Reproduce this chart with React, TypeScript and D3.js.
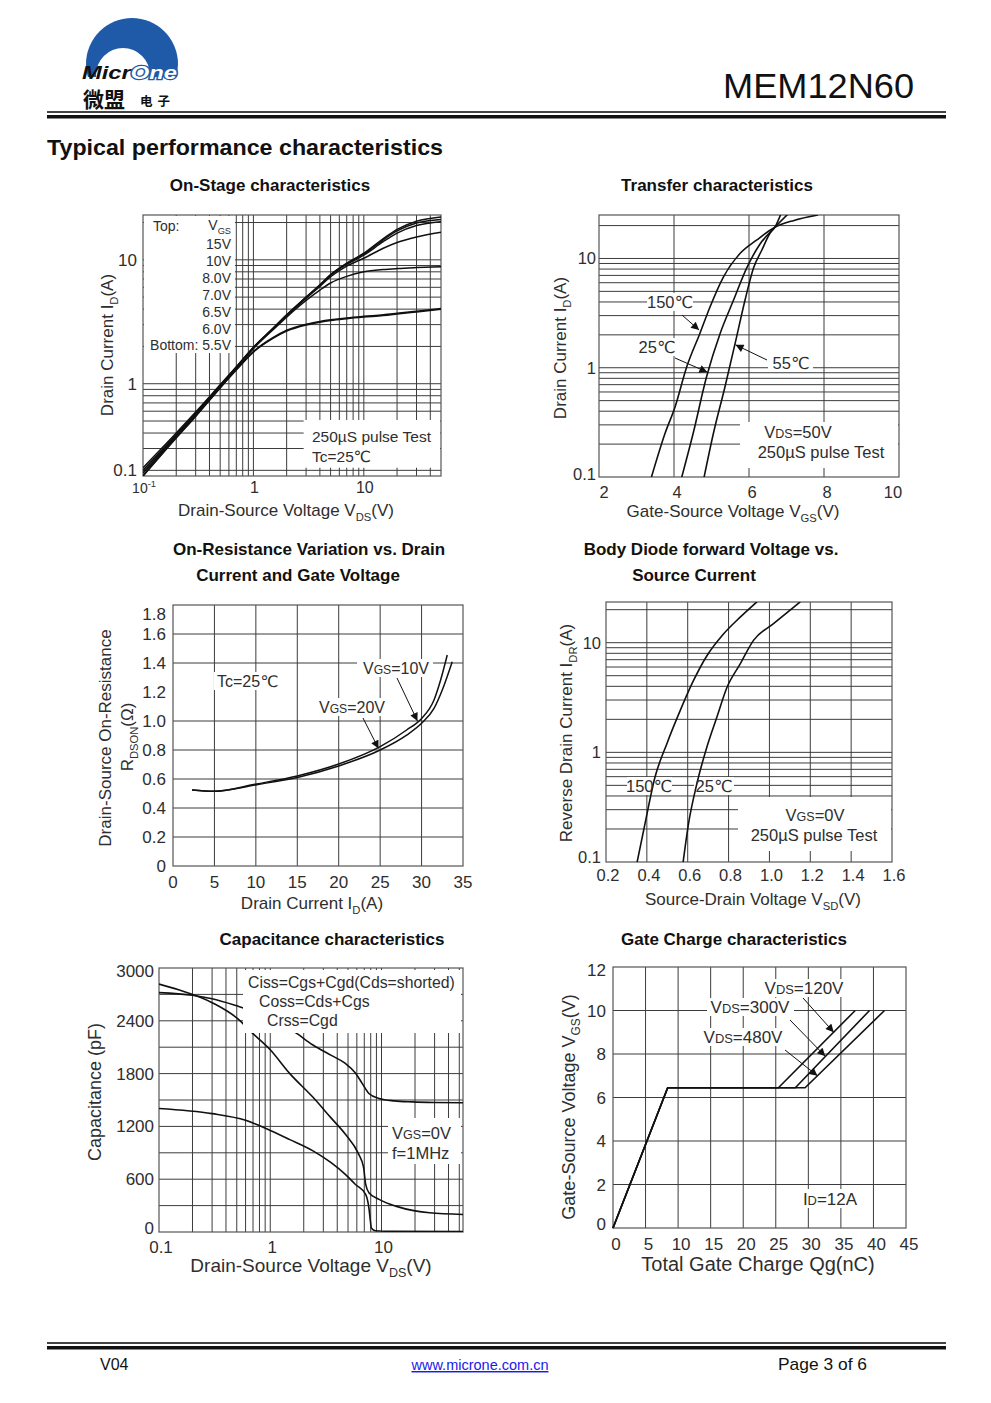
import React from "react";
import * as d3 from "d3";

const FONT = "'Liberation Sans', Arial, Helvetica, 'DejaVu Sans', sans-serif";
const CJK = "'Noto Sans CJK SC', sans-serif";
const INK = "#111";
const GRID = "#3c3c3c";
const TXT = "#2e2e2e";
const BLUE = "#1f5aa9";

type Pt = [number, number];
const zip = (xs: number[], ys: number[]): Pt[] => xs.map((x, i) => [x, ys[i]] as Pt);

// ===== 1. On-Stage characteristics (VDS, ID per VGS) =====
const onVds = [0.1, 0.2, 0.3, 0.5, 0.7, 1, 1.5, 2, 3, 4, 5, 7, 10, 15, 20, 30, 50];
const onVgsLabels = ["15V", "10V", "8.0V", "7.0V", "6.5V", "6.0V", "5.5V"];
const onId15V = [0.21, 0.4, 0.59, 0.98, 1.37, 1.97, 2.8, 3.6, 5.0, 6.3, 7.6, 9.4, 11.3, 14.8, 17.6, 20.5, 22.2];
const onId10V = [0.2, 0.39, 0.58, 0.97, 1.36, 1.96, 2.78, 3.58, 4.98, 6.25, 7.55, 9.3, 11.1, 14.5, 17.1, 19.8, 21.2];
const onId8V = [0.2, 0.38, 0.57, 0.96, 1.35, 1.95, 2.77, 3.56, 4.95, 6.2, 7.5, 9.2, 10.9, 14.0, 16.4, 18.9, 20.3];
const onId7V = [0.19, 0.38, 0.57, 0.96, 1.34, 1.94, 2.75, 3.54, 4.9, 6.1, 7.3, 8.9, 10.3, 12.4, 13.8, 15.3, 16.7];
const onId65V = [0.19, 0.37, 0.56, 0.95, 1.33, 1.92, 2.72, 3.45, 4.7, 5.7, 6.5, 7.35, 8.0, 8.35, 8.5, 8.65, 8.8];
const onId6V = [0.18, 0.37, 0.55, 0.93, 1.3, 1.82, 2.35, 2.7, 3.02, 3.18, 3.28, 3.4, 3.5, 3.6, 3.7, 3.85, 4.05];
const onId55V = [0.18, 0.365, 0.545, 0.925, 1.29, 1.8, 2.32, 2.66, 2.98, 3.14, 3.24, 3.35, 3.45, 3.55, 3.65, 3.8, 4.0];
const onXTicks = [0.1, 1, 10];
const onYTicks = [0.1, 1, 10];

// ===== 2. Transfer characteristics =====
const tr150Vgs = [3.38, 3.76, 4.03, 4.34, 4.69, 4.96, 5.32, 5.76, 6.2, 6.69, 7.2, 7.84];
const tr150Id = [0.095, 0.25, 0.44, 1.02, 2.06, 3.6, 6.8, 11.1, 14.7, 19.3, 22.3, 25];
const tr25Vgs = [4.19, 4.51, 4.87, 5.23, 5.58, 5.94, 6.29, 6.69, 7.04];
const tr25Id = [0.095, 0.25, 0.83, 2.06, 4.1, 8.2, 13.5, 19.3, 25.5];
const tr55Vgs = [4.79, 5.05, 5.36, 5.63, 5.89, 6.12, 6.34, 6.56, 6.69, 6.85];
const tr55Id = [0.095, 0.25, 0.67, 1.67, 4.1, 8.2, 11.9, 17.0, 19.3, 25.5];
const trXTicks = [2, 4, 6, 8, 10];
const trYTicks = [0.1, 1, 10];

// ===== 3. On-Resistance vs Drain Current =====
const rds10Id = [2.3, 4.9, 10.1, 15.0, 20.0, 25.0, 28.2, 30.0, 31.5, 32.3, 33.1];
const rds10R = [0.524, 0.515, 0.566, 0.621, 0.703, 0.823, 0.938, 1.018, 1.145, 1.283, 1.455];
const rds20Id = [2.3, 4.9, 10.1, 15.0, 20.0, 25.0, 28.2, 30.0, 31.5, 32.5, 33.7];
const rds20R = [0.524, 0.515, 0.561, 0.611, 0.69, 0.8, 0.903, 0.984, 1.087, 1.214, 1.409];
const rdsXTicks = [0, 5, 10, 15, 20, 25, 30, 35];
const rdsYTicks = [0, 0.2, 0.4, 0.6, 0.8, 1.0, 1.2, 1.4, 1.6, 1.8];
const rdsYGrid = [0.2, 0.4, 0.6, 0.8, 1.0, 1.4, 1.6];

// ===== 4. Body diode forward voltage =====
const bd150V = [0.35, 0.391, 0.44, 0.498, 0.563, 0.628, 0.694, 0.775, 0.857, 0.939];
const bd150I = [0.095, 0.224, 0.595, 1.2, 2.4, 4.5, 7.6, 12.0, 17.1, 23.6];
const bd25V = [0.576, 0.604, 0.645, 0.694, 0.743, 0.792, 0.857, 0.922, 1.02, 1.151];
const bd25I = [0.095, 0.224, 0.52, 1.12, 2.1, 3.9, 6.4, 10.5, 14.9, 23.6];
const bdXTicks = [0.2, 0.4, 0.6, 0.8, 1.0, 1.2, 1.4, 1.6];
const bdYTicks = [0.1, 1, 10];

// ===== 5. Capacitance =====
const cissV = [0.1, 0.2, 0.3, 0.5, 0.7, 1, 1.3, 1.7, 2.4, 3.5, 4.7, 5.8, 6.7, 7.7, 9.5, 13, 19, 30, 54];
const cissC = [2720, 2690, 2650, 2570, 2510, 2430, 2350, 2262, 2128, 2010, 1918, 1810, 1689, 1574, 1517, 1490, 1479, 1472, 1468];
const cossV = [0.1, 0.15, 0.3, 0.54, 0.64, 1, 1.5, 2.4, 3.5, 4.7, 6.2, 6.9, 7.2, 7.7, 9.5, 13.4, 20, 27, 54];
const cossC = [2817, 2752, 2606, 2396, 2300, 2071, 1800, 1536, 1300, 1116, 890, 734, 543, 447, 371, 294, 240, 218, 199];
const crssV = [0.1, 0.3, 0.6, 1, 1.5, 2.4, 3.5, 4.7, 5.8, 7.2, 7.7, 7.95, 8.1, 8.8, 12, 54];
const crssC = [1403, 1345, 1269, 1154, 1050, 925, 790, 657, 543, 428, 275, 122, 46, 15, 8, 5];
const capXTicks = [0.1, 1, 10];
const capYTicks = [0, 600, 1200, 1800, 2400, 3000];
const capYGrid = [300, 600, 900, 1200, 1500, 1800, 2100, 2400, 2700];

// ===== 6. Gate charge =====
const qgVgs = [0, 6.45, 6.45, 10];
const qg120 = [0, 8.4, 25.4, 37.2];
const qg300 = [0, 8.4, 28.0, 39.4];
const qg480 = [0, 8.4, 29.5, 41.7];
const qgXTicks = [0, 5, 10, 15, 20, 25, 30, 35, 40, 45];
const qgYTicks = [0, 2, 4, 6, 8, 10, 12];

// ---------- helpers ----------
function logGrid(lo: number, hi: number): number[] {
  const out: number[] = [];
  for (let e = Math.floor(Math.log10(lo)) - 1; e <= Math.ceil(Math.log10(hi)); e++) {
    for (let k = 1; k <= 9; k++) {
      const v = +(k * Math.pow(10, e)).toPrecision(3);
      if (v > lo * 1.001 && v < hi * 0.999) out.push(v);
    }
  }
  return out;
}

type Part = string | [string, string];
function Rich({ parts, fs, ...rest }: any) {
  let cur = 0;
  return (
    <text fontSize={fs} {...rest}>
      {(parts as Part[]).map((p, i) => {
        const s = typeof p === "string" ? p : p[0];
        const kind = typeof p === "string" ? "" : p[1];
        const target = kind === "sub" ? fs * 0.28 : kind === "sup" ? -fs * 0.4 : 0;
        const dy = target - cur;
        cur = target;
        const size = kind === "sub" || kind === "sup" ? fs * 0.66 : kind === "sc" ? fs * 0.76 : fs;
        return (
          <tspan key={i} dy={dy !== 0 ? dy : undefined} fontSize={size}>
            {s}
          </tspan>
        );
      })}
    </text>
  );
}

function VTitle({ x, y, parts, fs = 17 }: any) {
  return (
    <g transform={`translate(${x},${y}) rotate(-90)`}>
      <Rich parts={parts} fs={fs} textAnchor="middle" fill={TXT} />
    </g>
  );
}

function Title({ x, y, text }: any) {
  return (
    <text x={x} y={y} fontSize={17} fontWeight="bold" textAnchor="middle" fill={INK}>
      {text}
    </text>
  );
}

function WBox({ x0, y0, x1, y1 }: any) {
  return <rect x={x0} y={y0} width={x1 - x0} height={y1 - y0} fill="#fff" />;
}

function Frame({ L, R, T, B }: any) {
  return <rect x={L} y={T} width={R - L} height={B - T} fill="none" stroke="#555" strokeWidth={1.2} />;
}

function Arrow({ x1, y1, x2, y2 }: any) {
  return <line x1={x1} y1={y1} x2={x2} y2={y2} stroke={INK} strokeWidth={1} markerEnd="url(#arr)" />;
}

const gridStyle = { stroke: GRID, strokeWidth: 1 };

// ---------- Chart 1 ----------
function OnStage() {
  const L = 143, R = 441, T = 215, B = 476;
  const x = d3.scaleLog().domain([0.1, 50]).range([L, R]);
  const y = d3.scaleLog().domain([0.18, 23]).range([B, T]);
  const line = d3.line<Pt>().x((d) => x(d[0])).y((d) => y(d[1])).curve(d3.curveMonotoneX);
  const series = [onId15V, onId10V, onId8V, onId7V, onId65V, onId6V, onId55V];
  return (
    <g>
      <Title x={270} y={191} text="On-Stage characteristics" />
      <clipPath id="cp1">
        <rect x={L} y={T} width={R - L} height={B - T} />
      </clipPath>
      <g {...gridStyle}>
        {logGrid(0.1, 50).map((v) => (
          <line key={"x" + v} x1={x(v)} x2={x(v)} y1={T} y2={B} />
        ))}
        {logGrid(0.18, 23).map((v) => (
          <line key={"y" + v} x1={L} x2={R} y1={y(v)} y2={y(v)} />
        ))}
      </g>
      <WBox x0={L + 1} y0={T + 1} x1={x(0.68)} y1={y(1.77)} />
      <WBox x0={x(2.85)} y0={y(0.51)} x1={R - 1} y1={y(0.21)} />
      <Frame L={L} R={R} T={T} B={B} />
      <g clipPath="url(#cp1)" fill="none" stroke={INK} strokeWidth={1.5}>
        {series.map((s, i) => (
          <path key={i} d={line(zip(onVds, s)) || ""} />
        ))}
      </g>
      <g fill={TXT} fontSize={14}>
        <text x={153} y={231}>Top:</text>
        <Rich parts={["V", ["GS", "sub"]]} fs={14} x={231} y={230} textAnchor="end" />
        {onVgsLabels.map((lab, i) => (
          <text key={lab} x={231} y={249 + i * 16.9} textAnchor="end">
            {i === onVgsLabels.length - 1 ? "Bottom: " + lab : lab}
          </text>
        ))}
        <text x={312} y={442} fontSize={15.5}>250µS pulse Test</text>
        <text x={312} y={462} fontSize={15.5}>Tc=25℃</text>
      </g>
      <g fill={TXT}>
        {onYTicks.map((v) => (
          <text key={v} x={137} y={Math.min(y(v), B - 6) + 6} fontSize={17} textAnchor="end">
            {v}
          </text>
        ))}
        {onXTicks.map((v) =>
          v < 1 ? (
            <Rich key={v} parts={["10", ["-1", "sup"]]} fs={14} x={x(v) + 1} y={493} textAnchor="middle" />
          ) : (
            <text key={v} x={x(v) + 1} y={493} fontSize={16} textAnchor="middle">
              {v}
            </text>
          )
        )}
      </g>
      <Rich parts={["Drain-Source Voltage V", ["DS", "sub"], "(V)"]} fs={17} x={286} y={516} textAnchor="middle" fill={TXT} />
      <VTitle x={113} y={345} parts={["Drain Current I", ["D", "sub"], "(A)"]} />
    </g>
  );
}

// ---------- Chart 2 ----------
function Transfer() {
  const L = 599, R = 899, T = 215, B = 477;
  const x = d3.scaleLinear().domain([2, 10]).range([L, R]);
  const y = d3.scaleLog().domain([0.1, 25]).range([B, T]);
  const line = d3.line<Pt>().x((d) => x(d[0])).y((d) => y(d[1])).curve(d3.curveMonotoneX);
  const curves = [zip(tr150Vgs, tr150Id), zip(tr25Vgs, tr25Id), zip(tr55Vgs, tr55Id)];
  return (
    <g>
      <Title x={717} y={191} text="Transfer characteristics" />
      <clipPath id="cp2">
        <rect x={L} y={T} width={R - L} height={B - T} />
      </clipPath>
      <g {...gridStyle}>
        {[4, 6, 8].map((v) => (
          <line key={"x" + v} x1={x(v)} x2={x(v)} y1={T} y2={B} />
        ))}
        {logGrid(0.1, 25).map((v) => (
          <line key={"y" + v} x1={L} x2={R} y1={y(v)} y2={y(v)} />
        ))}
      </g>
      <WBox x0={647} y0={293} x1={693} y1={311} />
      <WBox x0={637} y0={338} x1={678} y1={356} />
      <WBox x0={768} y0={354} x1={813} y1={372} />
      <WBox x0={740} y0={422} x1={R - 1} y1={468} />
      <Frame L={L} R={R} T={T} B={B} />
      <g clipPath="url(#cp2)" fill="none" stroke={INK} strokeWidth={1.6}>
        {curves.map((c, i) => (
          <path key={i} d={line(c) || ""} />
        ))}
      </g>
      <g fill={TXT} fontSize={16.5}>
        <text x={670} y={308} textAnchor="middle">150℃</text>
        <text x={657} y={353} textAnchor="middle">25℃</text>
        <text x={791} y={369} textAnchor="middle">55℃</text>
        <Rich parts={["V", ["DS", "sc"], "=50V"]} fs={16.5} x={798} y={438} textAnchor="middle" />
        <text x={821} y={458} textAnchor="middle">250µS pulse Test</text>
      </g>
      <Arrow x1={682} y1={315} x2={x(4.67)} y2={y(2.21)} />
      <Arrow x1={675} y1={358} x2={x(4.89)} y2={y(0.91)} />
      <Arrow x1={767} y1={360} x2={x(5.64)} y2={y(1.62)} />
      <g fill={TXT} fontSize={16.5}>
        {trYTicks.map((v) => (
          <text key={v} x={596} y={Math.min(y(v), B - 3) + 6} textAnchor="end">
            {v}
          </text>
        ))}
        {trXTicks.map((v) => (
          <text key={v} x={x(v) + (v === 2 ? 5 : v === 10 ? -6 : 3)} y={498} textAnchor="middle">
            {v}
          </text>
        ))}
      </g>
      <Rich parts={["Gate-Source Voltage V", ["GS", "sub"], "(V)"]} fs={17} x={733} y={517} textAnchor="middle" fill={TXT} />
      <VTitle x={566} y={348} parts={["Drain Current I", ["D", "sub"], "(A)"]} />
    </g>
  );
}

// ---------- Chart 3 ----------
function OnResistance() {
  const L = 173, R = 463, T = 605, B = 866;
  const x = d3.scaleLinear().domain([0, 35]).range([L, R]);
  const y = d3.scaleLinear().domain([0, 1.8]).range([B, T]);
  const line = d3.line<Pt>().x((d) => x(d[0])).y((d) => y(d[1])).curve(d3.curveMonotoneX);
  return (
    <g>
      <Title x={309} y={555} text="On-Resistance Variation vs. Drain" />
      <Title x={298} y={581} text="Current and Gate Voltage" />
      <g {...gridStyle}>
        {rdsXTicks.slice(1, -1).map((v) => (
          <line key={"x" + v} x1={x(v)} x2={x(v)} y1={T} y2={B} />
        ))}
        {rdsYGrid.map((v) => (
          <line key={"y" + v} x1={L} x2={R} y1={y(v)} y2={y(v)} />
        ))}
      </g>
      <WBox x0={214} y0={672} x1={279} y1={690} />
      <WBox x0={357} y0={659} x1={433} y1={677} />
      <WBox x0={315} y0={698} x1={389} y1={716} />
      <Frame L={L} R={R} T={T} B={B} />
      <g fill="none" stroke={INK} strokeWidth={1.5}>
        <path d={line(zip(rds10Id, rds10R)) || ""} />
        <path d={line(zip(rds20Id, rds20R)) || ""} />
      </g>
      <g fill={TXT} fontSize={16}>
        <text x={217} y={687}>Tc=25℃</text>
        <Rich parts={["V", ["GS", "sc"], "=10V"]} fs={16} x={396} y={674} textAnchor="middle" />
        <Rich parts={["V", ["GS", "sc"], "=20V"]} fs={16} x={352} y={713} textAnchor="middle" />
      </g>
      <Arrow x1={397} y1={678} x2={x(29.5)} y2={y(1.0)} />
      <Arrow x1={363} y1={718} x2={x(24.8)} y2={y(0.81)} />
      <g fill={TXT} fontSize={17}>
        {rdsYTicks.map((v) => (
          <text key={v} x={166} y={Math.max(y(v), T + 9) + 6} textAnchor="end">
            {v === 0 ? "0" : v.toFixed(1)}
          </text>
        ))}
        {rdsXTicks.map((v) => (
          <text key={v} x={x(v)} y={888} textAnchor="middle">
            {v}
          </text>
        ))}
      </g>
      <Rich parts={["Drain Current I", ["D", "sub"], "(A)"]} fs={17} x={312} y={909} textAnchor="middle" fill={TXT} />
      <VTitle x={111} y={738} parts={["Drain-Source On-Resistance"]} />
      <VTitle x={133} y={737} parts={["R", ["DSON", "sub"], "(Ω)"]} />
    </g>
  );
}

// ---------- Chart 4 ----------
function BodyDiode() {
  const L = 606, R = 892, T = 602, B = 862;
  const x = d3.scaleLinear().domain([0.2, 1.6]).range([L, R]);
  const y = d3.scaleLog().domain([0.1, 23.5]).range([B, T]);
  const line = d3.line<Pt>().x((d) => x(d[0])).y((d) => y(d[1])).curve(d3.curveMonotoneX);
  return (
    <g>
      <Title x={711} y={555} text="Body Diode forward Voltage vs." />
      <Title x={694} y={581} text="Source Current" />
      <clipPath id="cp4">
        <rect x={L} y={T} width={R - L} height={B - T} />
      </clipPath>
      <g {...gridStyle}>
        {bdXTicks.slice(1, -1).map((v) => (
          <line key={"x" + v} x1={x(v)} x2={x(v)} y1={T} y2={B} />
        ))}
        {logGrid(0.1, 23.5).map((v) => (
          <line key={"y" + v} x1={L} x2={R} y1={y(v)} y2={y(v)} />
        ))}
      </g>
      <WBox x0={627} y0={777} x1={672} y1={795} />
      <WBox x0={694} y0={777} x1={734} y1={795} />
      <WBox x0={738} y0={797} x1={R - 1} y1={851} />
      <Frame L={L} R={R} T={T} B={B} />
      <g clipPath="url(#cp4)" fill="none" stroke={INK} strokeWidth={1.6}>
        <path d={line(zip(bd150V, bd150I)) || ""} />
        <path d={line(zip(bd25V, bd25I)) || ""} />
      </g>
      <g fill={TXT} fontSize={16.5}>
        <text x={649} y={792} textAnchor="middle">150℃</text>
        <text x={714} y={792} textAnchor="middle">25℃</text>
        <Rich parts={["V", ["GS", "sc"], "=0V"]} fs={16.5} x={815} y={821} textAnchor="middle" />
        <text x={814} y={841} textAnchor="middle">250µS pulse Test</text>
      </g>
      <g fill={TXT} fontSize={16.5}>
        {bdYTicks.map((v) => (
          <text key={v} x={601} y={Math.min(y(v), B - 5) + 6} textAnchor="end">
            {v}
          </text>
        ))}
        {bdXTicks.map((v) => (
          <text key={v} x={x(v) + 2} y={881} textAnchor="middle">
            {v.toFixed(1)}
          </text>
        ))}
      </g>
      <Rich parts={["Source-Drain Voltage V", ["SD", "sub"], "(V)"]} fs={17} x={753} y={905} textAnchor="middle" fill={TXT} />
      <VTitle x={572} y={733} parts={["Reverse Drain Current I", ["DR", "sub"], "(A)"]} />
    </g>
  );
}

// ---------- Chart 5 ----------
function Capacitance() {
  const L = 159, R = 463, T = 968, B = 1232;
  const x = d3.scaleLog().domain([0.1, 54]).range([L, R]);
  const y = d3.scaleLinear().domain([0, 3000]).range([B, T]);
  const line = d3.line<Pt>().x((d) => x(d[0])).y((d) => y(d[1])).curve(d3.curveMonotoneX);
  return (
    <g>
      <Title x={332} y={945} text="Capacitance characteristics" />
      <clipPath id="cp5">
        <rect x={L} y={T} width={R - L} height={B - T} />
      </clipPath>
      <g {...gridStyle}>
        {logGrid(0.1, 54).map((v) => (
          <line key={"x" + v} x1={x(v)} x2={x(v)} y1={T} y2={B} />
        ))}
        {capYGrid.map((v) => (
          <line key={"y" + v} x1={L} x2={R} y1={y(v)} y2={y(v)} />
        ))}
      </g>
      <Frame L={L} R={R} T={T} B={B} />
      <g clipPath="url(#cp5)" fill="none" stroke={INK} strokeWidth={1.6}>
        <path d={line(zip(cissV, cissC)) || ""} />
        <path d={line(zip(cossV, cossC)) || ""} />
        <path d={line(zip(crssV, crssC)) || ""} />
      </g>
      <WBox x0={243} y0={970} x1={461} y1={1033} />
      <WBox x0={388} y0={1118} x1={461} y1={1164} />
      <g fill={TXT} fontSize={15.8}>
        <text x={248} y={988}>Ciss=Cgs+Cgd(Cds=shorted)</text>
        <text x={259} y={1007}>Coss=Cds+Cgs</text>
        <text x={267} y={1026}>Crss=Cgd</text>
      </g>
      <g fill={TXT} fontSize={16.5}>
        <Rich parts={["V", ["GS", "sc"], "=0V"]} fs={16.5} x={392} y={1139} />
        <text x={392} y={1159}>f=1MHz</text>
      </g>
      <g fill={TXT} fontSize={17}>
        {capYTicks.map((v) => (
          <text key={v} x={154} y={Math.min(Math.max(y(v), T + 3), B - 4) + 6} textAnchor="end">
            {v}
          </text>
        ))}
        {capXTicks.map((v) => (
          <text key={v} x={x(v) + 2} y={1253} textAnchor="middle">
            {v}
          </text>
        ))}
      </g>
      <Rich parts={["Drain-Source Voltage V", ["DS", "sub"], "(V)"]} fs={19} x={311} y={1272} textAnchor="middle" fill={TXT} />
      <VTitle x={101} y={1092} parts={["Capacitance (pF)"]} fs={18} />
    </g>
  );
}

// ---------- Chart 6 ----------
function GateCharge() {
  const L = 613, R = 906, T = 967, B = 1228;
  const x = d3.scaleLinear().domain([0, 45]).range([L, R]);
  const y = d3.scaleLinear().domain([0, 12]).range([B, T]);
  const line = d3.line<Pt>().x((d) => x(d[0])).y((d) => y(d[1]));
  return (
    <g>
      <Title x={734} y={945} text="Gate Charge characteristics" />
      <g {...gridStyle}>
        {qgXTicks.slice(1, -1).map((v) => (
          <line key={"x" + v} x1={x(v)} x2={x(v)} y1={T} y2={B} />
        ))}
        {qgYTicks.slice(1, -1).map((v) => (
          <line key={"y" + v} x1={L} x2={R} y1={y(v)} y2={y(v)} />
        ))}
      </g>
      <WBox x0={761} y0={979} x1={847} y1={997} />
      <WBox x0={707} y0={998} x1={794} y1={1016} />
      <WBox x0={700} y0={1028} x1={787} y1={1046} />
      <WBox x0={801} y0={1189} x1={860} y1={1208} />
      <Frame L={L} R={R} T={T} B={B} />
      <g fill="none" stroke={INK} strokeWidth={1.6}>
        <path d={line(zip(qg120, qgVgs)) || ""} />
        <path d={line(zip(qg300, qgVgs)) || ""} />
        <path d={line(zip(qg480, qgVgs)) || ""} />
      </g>
      <g fill={TXT} fontSize={17}>
        <Rich parts={["V", ["DS", "sc"], "=120V"]} fs={17} x={804} y={994} textAnchor="middle" />
        <Rich parts={["V", ["DS", "sc"], "=300V"]} fs={17} x={750} y={1013} textAnchor="middle" />
        <Rich parts={["V", ["DS", "sc"], "=480V"]} fs={17} x={743} y={1043} textAnchor="middle" />
        <Rich parts={["I", ["D", "sc"], "=12A"]} fs={17} x={830} y={1205} textAnchor="middle" />
      </g>
      <Arrow x1={803} y1={998} x2={x(33.9)} y2={y(9.0)} />
      <Arrow x1={790} y1={1020} x2={x(32.6)} y2={y(7.9)} />
      <Arrow x1={785} y1={1050} x2={x(31.4)} y2={y(7.0)} />
      <g fill={TXT} fontSize={17}>
        {qgYTicks.map((v) => (
          <text key={v} x={606} y={Math.min(Math.max(y(v), T + 3), B - 4) + 6} textAnchor="end">
            {v}
          </text>
        ))}
        {qgXTicks.map((v) => (
          <text key={v} x={x(v) + 3} y={1250} textAnchor="middle">
            {v}
          </text>
        ))}
      </g>
      <text x={758} y={1271} fontSize={20} textAnchor="middle" fill={TXT}>
        Total Gate Charge Qg(nC)
      </text>
      <VTitle x={575} y={1107} parts={["Gate-Source Voltage V", ["GS", "sub"], "(V)"]} fs={18} />
    </g>
  );
}

function Header() {
  return (
    <g>
      <clipPath id="logoClip">
        <rect x={80} y={10} width={110} height={67} />
      </clipPath>
      <g clipPath="url(#logoClip)">
        <circle cx={132} cy={64} r={46} fill={BLUE} />
        <circle cx={123} cy={75} r={27} fill="#fff" />
      </g>
      <text x={82} y={78.5} fontSize={18} fontWeight="bold" fontStyle="italic" textLength={95} lengthAdjust="spacingAndGlyphs">
        <tspan fill="#111">Micr</tspan>
        <tspan fill="#fff" stroke={BLUE} strokeWidth={2.5} paintOrder="stroke">
          One
        </tspan>
      </text>
      <text x={83} y={107} fontFamily={CJK} fontSize={21} fontWeight={700} fill="#111">
        微盟
      </text>
      <text x={140} y={106} fontFamily={CJK} fontSize={12.5} fontWeight={700} fill="#111" letterSpacing={5}>
        电子
      </text>
      <text x={723} y={98} fontSize={35} fill="#111" textLength={191} lengthAdjust="spacingAndGlyphs">
        MEM12N60
      </text>
      <rect x={47} y={111} width={899} height={2} fill="#444" />
      <rect x={47} y={115} width={899} height={3.5} fill="#111" />
      <text x={47} y={155} fontSize={22} fontWeight="bold" fill="#111" textLength={396} lengthAdjust="spacingAndGlyphs">
        Typical performance characteristics
      </text>
    </g>
  );
}

function Footer() {
  return (
    <g>
      <rect x={47} y={1342} width={899} height={2} fill="#444" />
      <rect x={47} y={1346} width={899} height={3.5} fill="#111" />
      <text x={100} y={1370} fontSize={16} fill="#111">
        V04
      </text>
      <text x={480} y={1370} fontSize={14.5} fill="#1a1aee" textAnchor="middle" textDecoration="underline">
        www.microne.com.cn
      </text>
      <text x={778} y={1370} fontSize={17} fill="#111" textLength={89} lengthAdjust="spacingAndGlyphs">
        Page 3 of 6
      </text>
    </g>
  );
}

export default function App() {
  return (
    <svg
      width={991}
      height={1403}
      viewBox="0 0 991 1403"
      style={{ position: "absolute", left: 0, top: 0, display: "block", background: "#fff" }}
      fontFamily={FONT}
    >
      <defs>
        <marker id="arr" viewBox="0 0 10 10" refX="10" refY="5" markerUnits="userSpaceOnUse" markerWidth="9" markerHeight="8" orient="auto">
          <path d="M0,0 L10,5 L0,10 z" fill={INK} />
        </marker>
      </defs>
      <rect x={0} y={0} width={991} height={1403} fill="#fff" />
      <Header />
      <OnStage />
      <Transfer />
      <OnResistance />
      <BodyDiode />
      <Capacitance />
      <GateCharge />
      <Footer />
    </svg>
  );
}
